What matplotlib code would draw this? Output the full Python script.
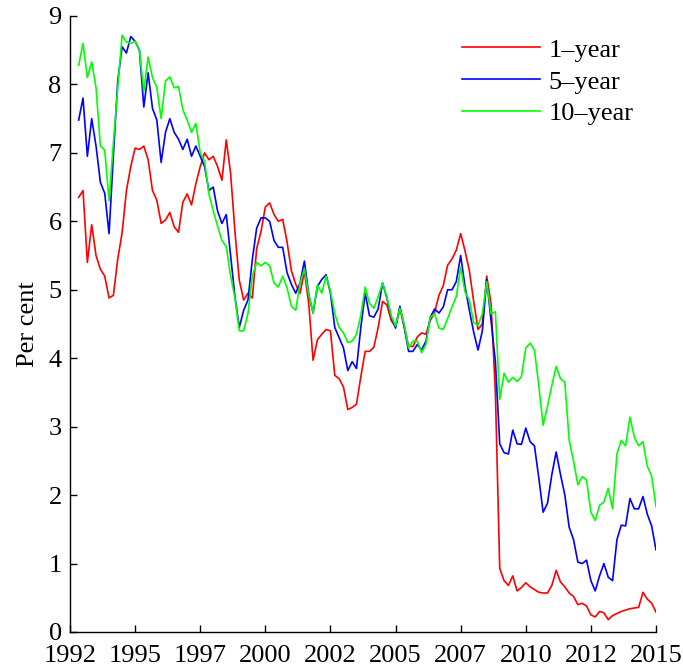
import numpy as np
import matplotlib
matplotlib.use("Agg")
import matplotlib.pyplot as plt

plt.rcParams["font.family"] = ["Liberation Serif", "DejaVu Serif"]

# -------- DATA (bi-monthly, Nov 1992 .. Jan 2015) --------
start_year = 1992 + 10 / 12
step = 1 / 6

one_year = [
    6.35, 6.45, 5.40, 5.95, 5.50, 5.30, 5.20, 4.88, 4.92, 5.45,
    5.83, 6.45, 6.80, 7.07, 7.05, 7.10, 6.90, 6.45, 6.31, 5.97,
    6.02, 6.13, 5.92, 5.84, 6.28, 6.40, 6.24, 6.55, 6.80, 7.00,
    6.90, 6.95, 6.80, 6.60, 7.19, 6.70, 5.85, 5.14, 4.85, 4.95,
    4.88, 5.60, 5.85, 6.21, 6.27, 6.10, 6.00, 6.03, 5.70, 5.28,
    5.08, 4.95, 5.27, 4.80, 3.97, 4.27, 4.35, 4.42, 4.40, 3.75,
    3.70, 3.58, 3.25, 3.28, 3.33, 3.73, 4.10, 4.10, 4.16, 4.45,
    4.83, 4.78, 4.55, 4.46, 4.73, 4.46, 4.18, 4.17, 4.31, 4.37,
    4.35, 4.55, 4.67, 4.92, 5.06, 5.36, 5.45, 5.58, 5.82, 5.57,
    5.28, 4.83, 4.42, 4.50, 5.20, 4.80, 3.50, 0.93, 0.75, 0.68,
    0.82, 0.60, 0.65, 0.72, 0.66, 0.62, 0.58, 0.57, 0.57, 0.68,
    0.90, 0.73, 0.66, 0.57, 0.52, 0.40, 0.42, 0.38, 0.25, 0.22,
    0.30, 0.28, 0.18, 0.24, 0.27, 0.30, 0.32, 0.34, 0.35, 0.36,
    0.58, 0.48, 0.42, 0.29,
]

five_year = [
    7.48, 7.80, 6.95, 7.50, 7.10, 6.57, 6.41, 5.82, 6.97, 8.05,
    8.55, 8.46, 8.70, 8.63, 8.50, 7.67, 8.17, 7.65, 7.48, 6.86,
    7.30, 7.50, 7.30, 7.20, 7.05, 7.20, 6.95, 7.10, 6.95, 6.80,
    6.45, 6.50, 6.15, 5.97, 6.10, 5.50, 4.90, 4.45, 4.70, 4.85,
    5.44, 5.90, 6.05, 6.05, 6.00, 5.72, 5.62, 5.62, 5.25, 5.08,
    4.95, 5.10, 5.42, 4.93, 4.66, 5.05, 5.15, 5.22, 4.95, 4.45,
    4.30, 4.15, 3.82, 3.95, 3.85, 4.45, 4.95, 4.62, 4.60, 4.72,
    5.10, 4.88, 4.60, 4.44, 4.76, 4.46, 4.10, 4.10, 4.20, 4.12,
    4.25, 4.60, 4.72, 4.66, 4.75, 5.00, 5.00, 5.12, 5.50, 5.05,
    4.70, 4.38, 4.12, 4.40, 5.15, 4.55, 3.95, 2.75, 2.62, 2.60,
    2.95, 2.75, 2.74, 2.98, 2.78, 2.72, 2.25, 1.75, 1.88, 2.30,
    2.63, 2.30, 2.00, 1.53, 1.35, 1.02, 1.00, 1.05, 0.75, 0.60,
    0.82, 1.00, 0.80, 0.75, 1.35, 1.56, 1.55, 1.95, 1.80, 1.80,
    1.98, 1.72, 1.55, 1.20,
]

ten_year = [
    8.28, 8.60, 8.10, 8.33, 7.95, 7.10, 7.04, 6.30, 7.15, 7.95,
    8.72, 8.62, 8.60, 8.63, 8.50, 7.90, 8.40, 8.10, 7.96, 7.50,
    8.05, 8.11, 7.95, 7.97, 7.63, 7.48, 7.30, 7.43, 7.00, 6.88,
    6.40, 6.15, 5.93, 5.72, 5.63, 5.20, 4.88, 4.40, 4.40, 4.65,
    5.20, 5.40, 5.35, 5.40, 5.35, 5.10, 5.04, 5.20, 5.03, 4.76,
    4.70, 5.10, 5.30, 4.93, 4.66, 5.07, 4.95, 5.20, 4.98, 4.65,
    4.45, 4.37, 4.23, 4.25, 4.35, 4.63, 5.04, 4.80, 4.73, 4.90,
    5.10, 4.90, 4.62, 4.47, 4.73, 4.49, 4.15, 4.25, 4.25, 4.08,
    4.20, 4.60, 4.65, 4.44, 4.42, 4.58, 4.75, 4.90, 5.33, 4.97,
    4.85, 4.52, 4.48, 4.65, 5.12, 4.65, 4.68, 3.40, 3.78, 3.65,
    3.72, 3.66, 3.73, 4.15, 4.22, 4.12, 3.60, 3.02, 3.30, 3.60,
    3.88, 3.70, 3.65, 2.80, 2.50, 2.15, 2.27, 2.22, 1.75, 1.63,
    1.85, 1.90, 2.10, 1.80, 2.60, 2.80, 2.72, 3.14, 2.85, 2.72,
    2.78, 2.42, 2.28, 1.83,
]

tick_labels = ["1992", "1995", "1997", "2000", "2002",
               "2005", "2007", "2010", "2012", "2015"]

years = start_year + step * np.arange(len(one_year))

fig = plt.figure(figsize=(6.83, 6.71), dpi=100)
ax = fig.add_axes([70 / 683, 39 / 671, 586 / 683, 616 / 671])

ax.plot(years, one_year, color="#ff0000", lw=1.2, label="1\u2013year")
ax.plot(years, five_year, color="#0000ff", lw=1.2, label="5\u2013year")
ax.plot(years, ten_year, color="#00ff00", lw=1.2, label="10\u2013year")

ax.set_xlim(1992.5, 2015)
ax.set_ylim(0, 9)
ax.set_xticks(np.linspace(1992.5, 2015, len(tick_labels)))
ax.set_xticklabels(tick_labels)
ax.set_yticks(range(0, 10))

for side in ["top", "right"]:
    ax.spines[side].set_visible(False)
for side in ["left", "bottom"]:
    ax.spines[side].set_linewidth(1.0)

ax.tick_params(direction="in", length=5, width=1, labelsize=19)
ax.tick_params(axis="x", pad=9)
ax.tick_params(axis="y", pad=6)
ax.set_ylabel("Per cent", fontsize=19, labelpad=7)

ax.legend(loc="upper left", bbox_to_anchor=(0.669, 0.964), frameon=False,
          fontsize=19, handlelength=2.95, handletextpad=0.34,
          borderpad=0, borderaxespad=0, labelspacing=0.32)

fig.savefig("out.png", dpi=100)
